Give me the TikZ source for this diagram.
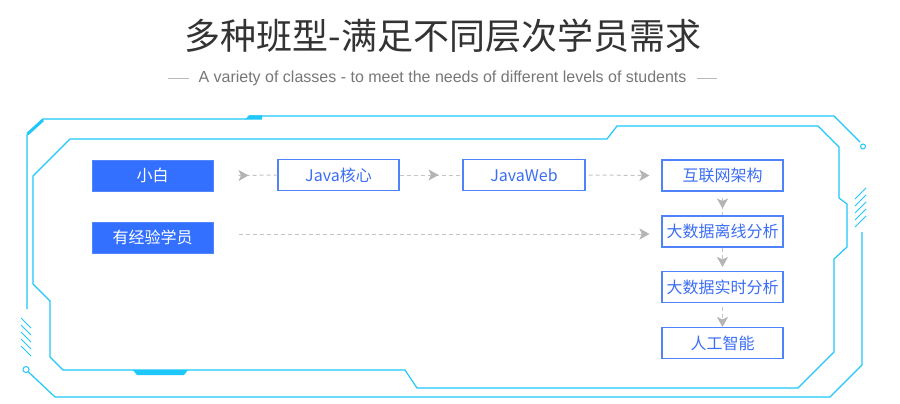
\documentclass[tikz,border=0pt]{standalone}
\usepackage{fontspec}
\setmainfont{Liberation Sans}
\newfontfamily\cjk{Noto Sans CJK SC}
\usetikzlibrary{arrows.meta,decorations.markings,calc}
\definecolor{framec}{RGB}{30,200,250}
\definecolor{fillblue}{RGB}{51,112,255}
\definecolor{lineblue}{RGB}{80,130,250}
\definecolor{txtblue}{RGB}{60,110,245}
\definecolor{arrgray}{RGB}{196,196,196}
\definecolor{tipgray}{RGB}{180,180,180}
\definecolor{titlegray}{RGB}{51,51,51}
\definecolor{subgray}{RGB}{119,119,119}
\definecolor{sublinec}{RGB}{185,185,185}
\begin{document}
\begin{tikzpicture}[x=1pt,y=-1pt,
  framel/.style={draw=framec, line width=1.2pt, line join=miter},
  boxbase/.style={minimum width=121pt, minimum height=31pt, inner sep=0pt,
    font=\cjk\fontsize{16}{18}\selectfont, text height=14pt, text depth=2pt},
  solidbox/.style={boxbase, fill=fillblue, draw=fillblue!85!white, line width=1pt, text=white},
  outbox/.style={boxbase, fill=white, draw=lineblue, line width=1.1pt, text=txtblue},
  conn/.style={draw=arrgray, line width=1pt, dash pattern=on 4pt off 3pt},
  tipat/.style={postaction={decorate}, decoration={markings,
    mark=at position #1 with {\arrow[tipgray]{Stealth[length=10pt 0,width=11pt 0,inset=2.5pt 0]}}}},
  endtip/.style={-{Stealth[length=10pt 0,width=11pt 0,inset=2.5pt 0,color=tipgray,fill=tipgray]}},
]
\useasboundingbox (0,0) rectangle (900,404);
\fill[white] (0,0) rectangle (900,404);

% title
\node[font=\cjk\fontsize{36}{40}\selectfont, text=titlegray, anchor=base, inner sep=0pt] (title) at (443,50) {多种班型-满足不同层次学员需求};
\node[font=\fontsize{16}{19}\selectfont, text=subgray, anchor=base, inner sep=0pt] (sub) at (442.5,82) {A variety of classes - to meet the needs of different levels of students};
\draw[sublinec, line width=0.8pt] (168,78) -- (189,78);
\draw[sublinec, line width=0.8pt] (697,78) -- (717,78);

% outer frame
\draw[framel] (27,309) -- (27,135) -- (43,119) -- (246,119);
\draw[framec, line width=3pt] (27.5,134) -- (43,120);
\fill[framec] (245,119.6) -- (249,115.4) -- (262,115.4) -- (262,119.6) -- cycle;
\draw[framel] (249,116) -- (834,116) -- (860,142);
\draw[framel, line width=1pt] (863,146.5) circle (2.5);
\foreach \yy in {188,195,202,209,216} {
  \draw[framel, line width=1pt] (855,\yy+11) -- (866,\yy);
}
\draw[framel] (862,232) -- (862,365) -- (830,397) -- (55,397) -- (28.5,372);
\draw[framel, line width=1pt] (26,369.5) circle (3);
\foreach \yy in {318,325,332,339,346} {
  \draw[framel, line width=1pt] (21,\yy) -- (31,\yy+10);
}

% inner frame
\draw[framel] (70,139) -- (607,139) -- (617,126) -- (818,126) -- (839,147) -- (839,198)
  -- (847,204) -- (847,247) -- (834,259) -- (834,352) -- (798,388) -- (417,388)
  -- (405,370) -- (63,370) -- (50,357) -- (50,301) -- (33,284) -- (33,176) -- cycle;
\fill[framec] (133,370) -- (188,370) -- (184,375) -- (137,375) -- cycle;

% boxes
\node[solidbox] (xiaobai) at (152.5,175.5) {小白};
\node[solidbox] (exp) at (152.5,237.5) {有经验学员};
\node[outbox] (javacore) at (338.5,175) {Java核心};
\node[outbox, minimum width=122pt] (javaweb) at (524,175) {JavaWeb};
\node[outbox] (hulian) at (722.5,175.5) {互联网架构};
\node[outbox] (lixian) at (722.5,231.5) {大数据离线分析};
\node[outbox] (shishi) at (722.5,287) {大数据实时分析};
\node[outbox] (ai) at (722.5,343) {人工智能};

% connectors
\coordinate (a1s) at ($(xiaobai.east)+(25,0)$);
\draw[conn, tipat=10pt] (a1s) -- (javacore.west);
\draw[conn, tipat=39pt] (javacore.east) -- (javaweb.west);
\coordinate (a3s) at ($(javaweb.east)+(3,0)$);
\coordinate (a3e) at ($(hulian.west)+(-12,0)$);
\draw[conn, endtip] (a3s) -- (a3e);
\coordinate (r2s) at ($(exp.east)+(25,-3.5)$);
\coordinate (r2e) at ($(r2s -| lixian.west)+(-12,0)$);
\draw[conn, endtip] (r2s) -- (r2e);
\coordinate (v1s) at ($(hulian.south)+(0,6)$);
\draw[conn, tipat=11pt] (v1s) -- (lixian.north);
\coordinate (v2e) at ($(shishi.north)+(0,-4)$);
\draw[conn, endtip] (lixian.south) -- (v2e);
\coordinate (v3s) at ($(shishi.south)+(0,4)$);
\draw[conn, endtip] (v3s) -- (ai.north);
\end{tikzpicture}
\end{document}
